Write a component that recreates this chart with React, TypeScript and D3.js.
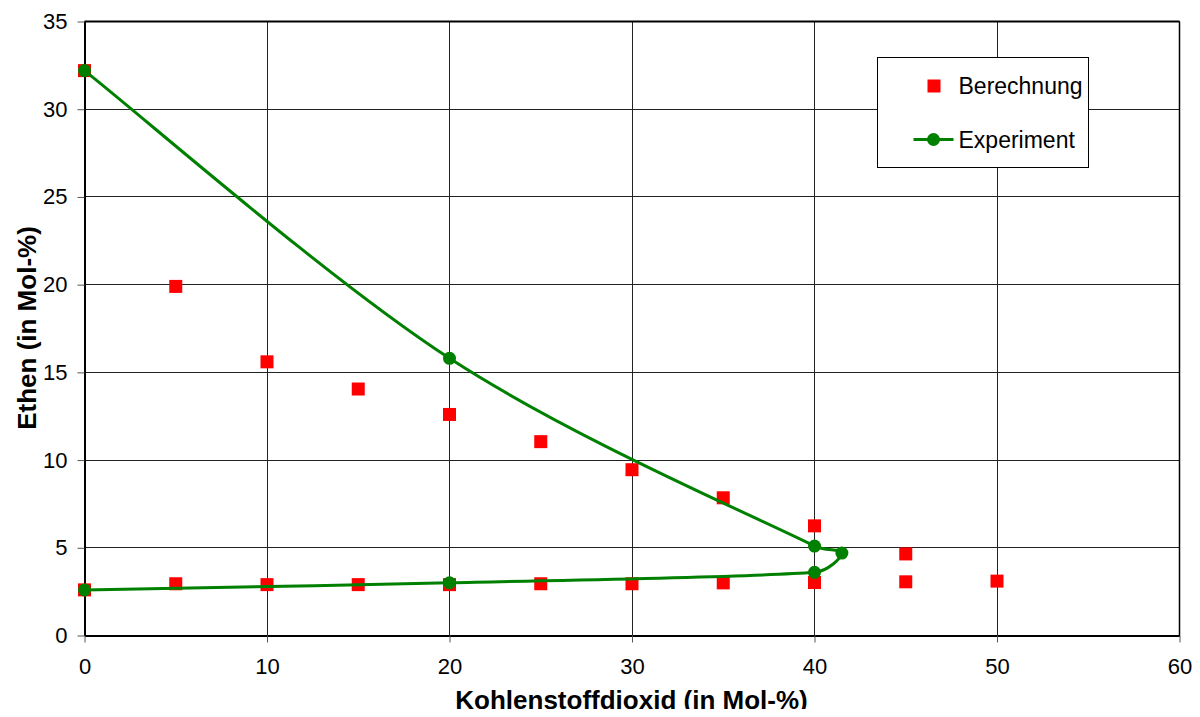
import * as d3 from "d3";
import { useEffect, useRef } from "react";

const WIDTH = 1200;
const HEIGHT = 717;

// Berechnung (red squares)
const calcX = [0, 0, 5, 5, 10, 10, 15, 15, 20, 20, 25, 25, 30, 30, 35, 35, 40, 40, 45, 45, 50];
const calcY = [32.2, 2.6, 19.9, 2.95, 15.6, 2.9, 14.05, 2.9, 12.6, 2.9, 11.05, 2.95, 9.45, 2.95, 7.85, 3.0, 6.25, 3.02, 4.65, 3.06, 3.1];

// Experiment (green line, smoothed)
const expX = [0, 20, 40, 41.5, 40, 20, 0];
const expY = [32.2, 15.8, 5.1, 4.7, 3.6, 3.0, 2.6];

const xTicks = [0, 10, 20, 30, 40, 50, 60];
const yTicks = [0, 5, 10, 15, 20, 25, 30, 35];

const FONT = "'Liberation Sans', Arial, sans-serif";
const RED = "#ff0000";
const GREEN = "#008000";

// spreadsheet-like smoothing: catmull-rom bezier handles, clamped to part of the chord
function smoothPath(pts: [number, number][]) {
    const p = d3.path();
    const n = pts.length;
    const handle = (i: number, sign: number, chord: number): [number, number] => {
        const a = pts[Math.max(0, i - 1)];
        const b = pts[Math.min(n - 1, i + 1)];
        let hx = ((b[0] - a[0]) / 6) * sign;
        let hy = ((b[1] - a[1]) / 6) * sign;
        const len = Math.hypot(hx, hy);
        const max = chord * 0.4;
        if (len > max && len > 0) {
            hx *= max / len;
            hy *= max / len;
        }
        return [pts[i][0] + hx, pts[i][1] + hy];
    };
    p.moveTo(pts[0][0], pts[0][1]);
    for (let i = 0; i < n - 1; i++) {
        const chord = Math.hypot(pts[i + 1][0] - pts[i][0], pts[i + 1][1] - pts[i][1]);
        const c1 = handle(i, 1, chord);
        const c2 = handle(i + 1, -1, chord);
        p.bezierCurveTo(c1[0], c1[1], c2[0], c2[1], pts[i + 1][0], pts[i + 1][1]);
    }
    return p.toString();
}

export default function App() {
    const svgRef = useRef<SVGSVGElement | null>(null);

    useEffect(() => {
        if (!svgRef.current) return;
        const svg = d3.select(svgRef.current);
        svg.selectAll("*").remove();

        const margin = { top: 21, right: 21, bottom: 82, left: 84 };
        const innerWidth = WIDTH - margin.left - margin.right;
        const innerHeight = HEIGHT - margin.top - margin.bottom;

        const x = d3.scaleLinear().domain([0, 60]).range([0, innerWidth]);
        const y = d3.scaleLinear().domain([0, 35]).range([innerHeight, 0]);

        svg.append("rect").attr("width", WIDTH).attr("height", HEIGHT).attr("fill", "#fff");

        const g = svg.append("g").attr("transform", `translate(${margin.left + 0.5},${margin.top + 0.5})`);

        // grid
        g.append("g")
            .selectAll("line")
            .data(xTicks.slice(1))
            .enter()
            .append("line")
            .attr("x1", (d) => Math.round(x(d)))
            .attr("x2", (d) => Math.round(x(d)))
            .attr("y1", 0)
            .attr("y2", innerHeight)
            .attr("stroke", "#222")
            .attr("stroke-width", 1);
        g.append("g")
            .selectAll("line")
            .data(yTicks.slice(1))
            .enter()
            .append("line")
            .attr("x1", 0)
            .attr("x2", innerWidth)
            .attr("y1", (d) => Math.round(y(d)))
            .attr("y2", (d) => Math.round(y(d)))
            .attr("stroke", "#222")
            .attr("stroke-width", 1);

        // axes
        const xAxis = g
            .append("g")
            .attr("transform", `translate(0,${Math.round(innerHeight)})`)
            .call(d3.axisBottom(x).tickValues(xTicks).tickSize(7).tickSizeOuter(0).tickPadding(16));
        const yAxis = g.append("g").call(d3.axisLeft(y).tickValues(yTicks).tickSize(7).tickSizeOuter(0).tickPadding(10));
        [xAxis, yAxis].forEach((ax) => {
            ax.select(".domain").attr("stroke", "#000").attr("stroke-width", 2);
            ax.selectAll(".tick line").attr("stroke", "#555");
            ax.selectAll(".tick text").attr("font-family", FONT).attr("font-size", 22).attr("fill", "#000");
        });

        // calc squares
        const sq = 13;
        g.append("g")
            .selectAll("rect")
            .data(calcX.map((v, i) => [v, calcY[i]]))
            .enter()
            .append("rect")
            .attr("x", (d) => x(d[0]) - sq / 2)
            .attr("y", (d) => y(d[1]) - sq / 2)
            .attr("width", sq)
            .attr("height", sq)
            .attr("fill", RED);

        // experiment line
        const expPts = expX.map((v, i) => [x(v), y(expY[i])] as [number, number]);
        g.append("path").attr("d", smoothPath(expPts)).attr("fill", "none").attr("stroke", GREEN).attr("stroke-width", 3);
        g.append("g")
            .selectAll("circle")
            .data(expPts)
            .enter()
            .append("circle")
            .attr("cx", (d) => d[0])
            .attr("cy", (d) => d[1])
            .attr("r", 6.5)
            .attr("fill", GREEN);

        // top/right border
        g.append("line").attr("x1", 0).attr("x2", innerWidth).attr("y1", 0).attr("y2", 0).attr("stroke", "#000").attr("stroke-width", 2);
        g.append("line").attr("x1", innerWidth).attr("x2", innerWidth).attr("y1", 0).attr("y2", innerHeight).attr("stroke", "#000").attr("stroke-width", 1.5);

        // axis titles
        svg.append("text")
            .attr("x", margin.left + innerWidth / 2)
            .attr("y", 709)
            .attr("text-anchor", "middle")
            .attr("font-family", FONT)
            .attr("font-weight", "bold")
            .attr("font-size", 26)
            .text("Kohlenstoffdioxid (in Mol-%)");
        svg.append("text")
            .attr("transform", `translate(36,${margin.top + innerHeight / 2}) rotate(-90)`)
            .attr("text-anchor", "middle")
            .attr("font-family", FONT)
            .attr("font-weight", "bold")
            .attr("font-size", 26)
            .text("Ethen (in Mol-%)");

        // legend
        const legend = svg.append("g").attr("transform", "translate(877.5,57.5)");
        legend.append("rect").attr("width", 211).attr("height", 110).attr("fill", "#fff").attr("stroke", "#000").attr("stroke-width", 1);
        legend.append("rect").attr("x", 50).attr("y", 22).attr("width", sq).attr("height", sq).attr("fill", RED);
        legend.append("text").attr("x", 81).attr("y", 36).attr("font-family", FONT).attr("font-size", 23).text("Berechnung");
        legend.append("line").attr("x1", 36).attr("x2", 76).attr("y1", 82).attr("y2", 82).attr("stroke", GREEN).attr("stroke-width", 3);
        legend.append("circle").attr("cx", 56).attr("cy", 82).attr("r", 6.5).attr("fill", GREEN);
        legend.append("text").attr("x", 81).attr("y", 90).attr("font-family", FONT).attr("font-size", 23).text("Experiment");
    }, []);

    return (
        <div style={{ margin: -8 }}>
            <svg ref={svgRef} width={WIDTH} height={HEIGHT} style={{ display: "block" }} />
        </div>
    );
}
